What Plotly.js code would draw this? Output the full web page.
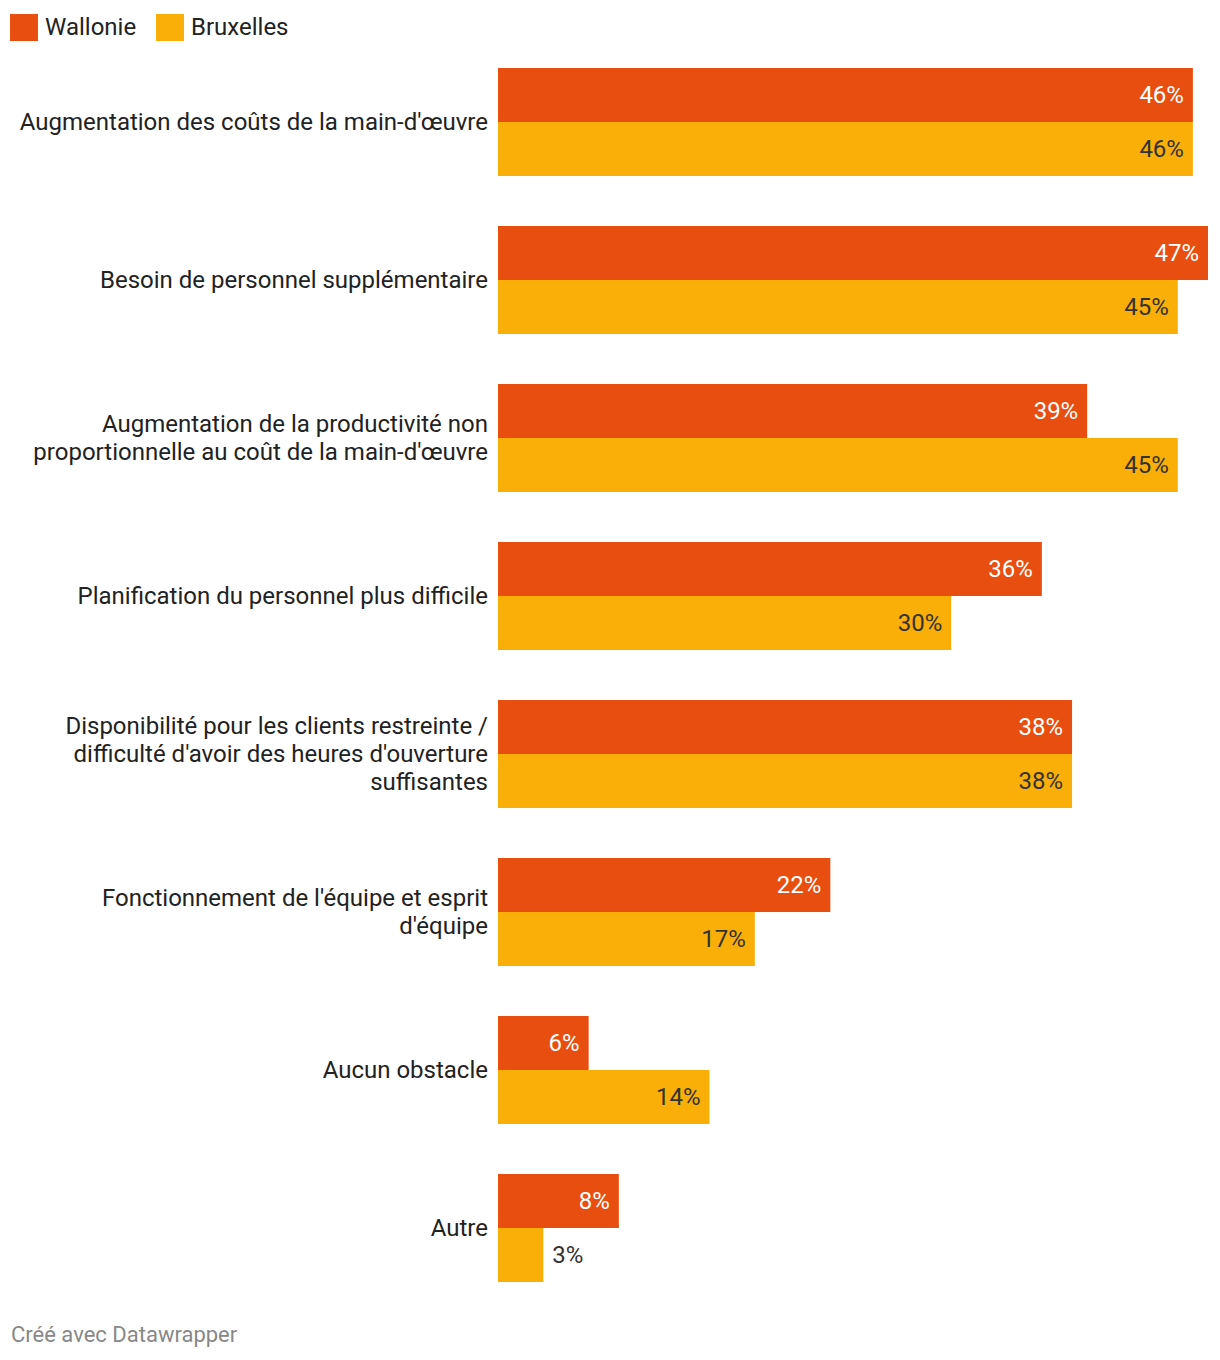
<!DOCTYPE html>
<html>
<head>
<meta charset="utf-8">
<script src="https://cdn.plot.ly/plotly-3.0.1.min.js"></script>
<style>
html,body{margin:0;padding:0;background:#fff;}
#chart{width:1220px;height:1360px;}
</style>
</head>
<body>
<div id="chart"></div>
<script>
const categories = [
  "Augmentation des coûts de la main-d'œuvre",
  "Besoin de personnel supplémentaire",
  "Augmentation de la productivité non<br>proportionnelle au coût de la main-d'œuvre",
  "Planification du personnel plus difficile",
  "Disponibilité pour les clients restreinte /<br>difficulté d'avoir des heures d'ouverture<br>suffisantes",
  "Fonctionnement de l'équipe et esprit<br>d'équipe",
  "Aucun obstacle",
  "Autre"
];
const seriesNames = ["Wallonie", "Bruxelles"];
const wallonie = [46, 47, 39, 36, 38, 22, 6, 8];
const bruxelles = [46, 45, 45, 30, 38, 17, 14, 3];
const footerText = "Créé avec Datawrapper";

const colors = ["#E84E0F", "#F9AE08"];
const insideColors = ["#ffffff", "#333333"];
const FONT = "Roboto, sans-serif";

// geometry in pixels
const W = 1220, H = 1360;
const L = 498, R = 12, T = 43, B = 53;
const pw = W - L - R, ph = H - T - B;
const px = x => (x - L) / pw;
const py = y => (H - B - y) / ph;

function barTrace(name, vals, i) {
  return {
    type: "bar",
    orientation: "h",
    name: name,
    y: categories,
    x: vals,
    marker: {color: colors[i], line: {width: 0}},
    texttemplate: vals.map(v => v < 5 ? "\u00a0%{x}%" : "%{x}%\u00a0"),
    textposition: vals.map(v => v < 5 ? "outside" : "inside"),
    insidetextanchor: "end",
    textangle: 0,
    constraintext: "none",
    insidetextfont: {family: FONT, size: 24, color: insideColors[i]},
    outsidetextfont: {family: FONT, size: 24, color: "#333333"},
    cliponaxis: false,
    hoverinfo: "skip",
    showlegend: false
  };
}

const data = [
  barTrace(seriesNames[0], wallonie, 0),
  barTrace(seriesNames[1], bruxelles, 1)
];

const shapes = [], annotations = [];
const legendX = [10, 156];
seriesNames.forEach((n, i) => {
  shapes.push({type: "rect", xref: "paper", yref: "paper",
    x0: px(legendX[i]), x1: px(legendX[i] + 28), y0: py(41), y1: py(14),
    fillcolor: colors[i], line: {width: 0}});
  annotations.push({xref: "paper", yref: "paper", x: px(legendX[i] + 33), y: py(27),
    xanchor: "left", yanchor: "middle", showarrow: false, text: n,
    font: {family: FONT, size: 24, color: "#222222"}});
});
annotations.push({xref: "paper", yref: "paper", x: px(9), y: py(1335),
  xanchor: "left", yanchor: "middle", showarrow: false, text: footerText,
  font: {family: FONT, size: 22, color: "#888888"}});

const layout = {
  width: W, height: H,
  margin: {l: L, r: R, t: T, b: B, pad: 0},
  paper_bgcolor: "#ffffff", plot_bgcolor: "#ffffff",
  barmode: "group", bargap: 0.3165, bargroupgap: 0,
  showlegend: false,
  font: {family: FONT, color: "#222222"},
  xaxis: {range: [0, 47], visible: false, fixedrange: true},
  yaxis: {type: "category", autorange: "reversed", showgrid: false, zeroline: false,
    showline: false, ticks: "", ticklabelstandoff: 9,
    tickfont: {family: FONT, size: 24, color: "#222222"}, fixedrange: true},
  shapes: shapes, annotations: annotations
};

// tighten line spacing of multi-line category labels (28px per line at 24px font)
function tightenLines(gd) {
  const LS = 1.3, NEW_LS = 28 / 24;
  gd.querySelectorAll(".ytick text").forEach(t => {
    const lines = t.querySelectorAll("tspan.line");
    const n = lines.length;
    if (n < 2) return;
    const corr = (n - 1) * (LS - NEW_LS) / 2;
    lines.forEach(ln => {
      const k = Math.round(parseFloat(ln.getAttribute("dy") || "0") / LS);
      ln.setAttribute("dy", (corr + k * NEW_LS) + "em");
    });
  });
}

Plotly.newPlot("chart", data, layout, {displayModeBar: false, staticPlot: true})
  .then(gd => tightenLines(gd));
</script>
</body>
</html>
